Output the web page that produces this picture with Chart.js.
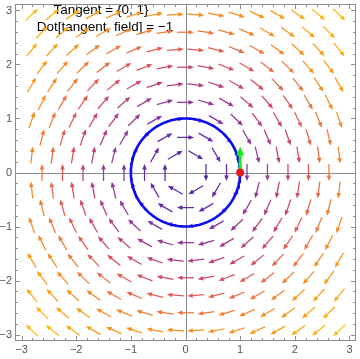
<!DOCTYPE html>
<html><head><meta charset="utf-8">
<script src="https://cdn.jsdelivr.net/npm/chart.js@4/dist/chart.umd.min.js"></script>
<style>html,body{margin:0;padding:0;background:#fff;}#wrap{width:360px;height:359px;}</style>
</head><body><div id="wrap"><canvas id="c" width="360" height="359"></canvas></div>
<script>
// hexagonal sample grid of the vector field
const rowYs = [-2.923,-2.598,-2.273,-1.949,-1.624,-1.299,-0.974,-0.650,-0.325,0,0.325,0.650,0.974,1.299,1.624,1.949,2.273,2.598,2.923];
const evenXs = [-2.625,-2.25,-1.875,-1.5,-1.125,-0.75,-0.375,0,0.375,0.75,1.125,1.5,1.875,2.25,2.625];
const oddXs = [-2.8125,-2.4375,-2.0625,-1.6875,-1.3125,-0.9375,-0.5625,-0.1875,0.1875,0.5625,0.9375,1.3125,1.6875,2.0625,2.4375,2.8125];
const axisTicks = [-3,-2,-1,0,1,2,3];
const titleLines = ['Tangent = {0, 1}', 'Dot[tangent, field] = \u22121'];
const contactPoint = [1, 0];
const tangentTip = [1, 0.48];
const circleRadius = 1;

// the plotted field: clockwise rotation
function field(x, y) { return [y, -x]; }

const fieldPts = [];
rowYs.forEach((y, i) => {
  const xs = (Math.abs(i - 9) % 2 === 1) ? oddXs : evenXs;
  xs.forEach(x => { if (!(x === 0 && y === 0)) fieldPts.push({x, y}); });
});
const circlePts = [];
for (let k = 0; k <= 180; k++) {
  const a = k / 180 * 2 * Math.PI;
  circlePts.push({x: circleRadius * Math.cos(a), y: circleRadius * Math.sin(a)});
}

const stops = [
  [0.00, [84, 38, 165]],
  [0.17, [116, 48, 168]],
  [0.33, [172, 62, 136]],
  [0.43, [203, 72, 106]],
  [0.51, [224, 90, 86]],
  [0.60, [238, 116, 64]],
  [0.69, [246, 140, 34]],
  [0.85, [250, 165, 22]],
  [1.00, [255, 192, 28]]
];
function colorAt(t) {
  t = Math.max(0, Math.min(1, t));
  for (let i = 1; i < stops.length; i++) {
    if (t <= stops[i][0]) {
      const [t0, c0] = stops[i - 1], [t1, c1] = stops[i];
      const f = (t - t0) / (t1 - t0);
      const c = c0.map((v, j) => Math.round(v + (c1[j] - v) * f));
      return `rgb(${c[0]},${c[1]},${c[2]})`;
    }
  }
  return 'rgb(255,192,28)';
}
const mags = fieldPts.map(p => Math.hypot(...field(p.x, p.y)));
const mMin = Math.min(...mags), mMax = Math.max(...mags);

function fmt(v) { return v < 0 ? '\u2212' + Math.abs(v) : String(v); }

function drawArrow(ctx, x0, y0, x1, y1, color, lw, hl, hw) {
  const dx = x1 - x0, dy = y1 - y0, L = Math.hypot(dx, dy);
  const ux = dx / L, uy = dy / L;
  const bx = x1 - ux * hl, by = y1 - uy * hl;
  ctx.strokeStyle = color; ctx.fillStyle = color; ctx.lineWidth = lw; ctx.lineCap = 'butt';
  ctx.beginPath(); ctx.moveTo(x0, y0); ctx.lineTo(bx + ux * 0.5, by + uy * 0.5); ctx.stroke();
  ctx.beginPath();
  ctx.moveTo(x1, y1);
  ctx.lineTo(bx - uy * hw, by + ux * hw);
  ctx.lineTo(bx + uy * hw, by - ux * hw);
  ctx.closePath(); ctx.fill();
}

const FRAME = '#8c8c8c';
const decor = {
  id: 'decor',
  beforeDatasetsDraw(chart) {
    const {ctx, chartArea: a, scales: {x, y}} = chart;
    ctx.save();
    ctx.strokeStyle = '#8a8a8a'; ctx.lineWidth = 1;
    const x0 = Math.round(x.getPixelForValue(0)) + 0.5, y0 = Math.round(y.getPixelForValue(0)) + 0.5;
    ctx.beginPath(); ctx.moveTo(a.left, y0); ctx.lineTo(a.right, y0);
    ctx.moveTo(x0, a.top); ctx.lineTo(x0, a.bottom); ctx.stroke();
    ctx.strokeStyle = FRAME;
    ctx.strokeRect(Math.round(a.left) + 0.5, Math.round(a.top) + 0.5, Math.round(a.right - a.left) - 1, Math.round(a.bottom - a.top) - 1);
    ctx.beginPath();
    for (let k = -15; k <= 15; k++) {
      const v = k / 5, major = k % 5 === 0, len = major ? 5 : 3;
      const px = Math.round(x.getPixelForValue(v)) + 0.5, py = Math.round(y.getPixelForValue(v)) + 0.5;
      ctx.moveTo(px, a.bottom); ctx.lineTo(px, a.bottom - len);
      ctx.moveTo(px, a.top); ctx.lineTo(px, a.top + len);
      ctx.moveTo(a.left, py); ctx.lineTo(a.left + len, py);
      ctx.moveTo(a.right, py); ctx.lineTo(a.right - len, py);
    }
    ctx.stroke();
    ctx.fillStyle = '#000'; ctx.font = '13.5px "Liberation Sans", Arial, sans-serif';
    ctx.textAlign = 'center'; ctx.textBaseline = 'middle';
    ctx.fillText(titleLines[0], 101, 10);
    ctx.fillText(titleLines[1], 105, 27);
    ctx.restore();
  },
  afterDatasetDraw(chart, args) {
    const {ctx} = chart;
    if (args.index === 0) {
      const meta = chart.getDatasetMeta(0);
      ctx.save();
      const L = 17;
      meta.data.forEach((el, i) => {
        const p = fieldPts[i];
        const [vx, vy] = field(p.x, p.y);
        const n = Math.hypot(vx, vy);
        const ux = vx / n, uy = -vy / n;
        const col = colorAt((mags[i] - mMin) / (mMax - mMin));
        drawArrow(ctx, el.x - ux * L / 2, el.y - uy * L / 2, el.x + ux * L / 2, el.y + uy * L / 2, col, 1.25, 5.5, 2.3);
      });
      ctx.restore();
    }
    if (args.index === 2) {
      const meta = chart.getDatasetMeta(2);
      const [p0, p1] = meta.data;
      ctx.save();
      drawArrow(ctx, p0.x, p0.y, p1.x, p1.y, '#12ee12', 3, 9, 4);
      ctx.restore();
    }
  }
};

const tickFont = {family: '"Liberation Sans", Arial, sans-serif', size: 11};
new Chart(document.getElementById('c').getContext('2d'), {
  type: 'scatter',
  data: {datasets: [
    {label: 'field', data: fieldPts, pointRadius: 0, pointHoverRadius: 0, showLine: false, order: 4},
    {label: 'circle', data: circlePts, showLine: true, borderColor: '#0b0bf5', borderWidth: 2.6, pointRadius: 0, fill: false, tension: 0, order: 3},
    {label: 'tangent', data: [{x: contactPoint[0], y: contactPoint[1]}, {x: tangentTip[0], y: tangentTip[1]}], showLine: false, pointRadius: 0, order: 2},
    {label: 'point', data: [{x: contactPoint[0], y: contactPoint[1]}], pointRadius: 4, backgroundColor: '#e21a1a', borderWidth: 0, order: 1}
  ]},
  options: {
    animation: false, responsive: false, maintainAspectRatio: false, devicePixelRatio: 1,
    layout: {padding: {top: -1, right: 3, left: 0, bottom: 0}},
    plugins: {legend: {display: false}, tooltip: {enabled: false}},
    scales: {
      x: {type: 'linear', min: -3.12, max: 3.12,
        afterBuildTicks: s => { s.ticks = axisTicks.map(v => ({value: v})); },
        afterFit: s => { s.height = 18; s.paddingLeft = 0; s.paddingRight = 0; },
        grid: {display: false, drawTicks: false}, border: {display: false},
        ticks: {padding: 2, color: '#555', font: tickFont, callback: v => fmt(v), maxRotation: 0, autoSkip: false}},
      y: {type: 'linear', min: -3.12, max: 3.12,
        afterBuildTicks: s => { s.ticks = axisTicks.map(v => ({value: v})); },
        afterFit: s => { s.width = 15; s.paddingTop = 0; s.paddingBottom = 0; },
        grid: {display: false, drawTicks: false}, border: {display: false},
        ticks: {padding: 3, color: '#555', font: tickFont, callback: v => fmt(v), autoSkip: false}}
    }
  },
  plugins: [decor]
});
</script></body></html>
